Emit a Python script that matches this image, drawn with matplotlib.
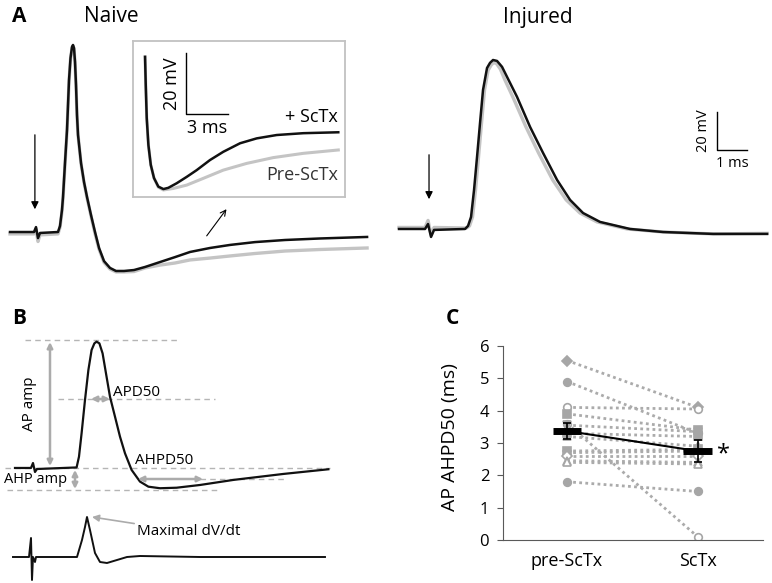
import matplotlib
matplotlib.use("Agg")
import matplotlib.pyplot as plt

plt.rcParams['font.family'] = ['Open Sans', 'DejaVu Sans']

# ---- data ----
# A, naive cell: time (ms) and membrane potential relative to baseline (mV)
naive_t_sctx = [0, 0.8, 0.867, 0.933, 1.0, 1.6, 1.667, 1.733, 1.767, 1.833, 1.9, 1.967, 2.017, 2.067,
                2.1, 2.133, 2.167, 2.2, 2.233, 2.267, 2.367, 2.467, 2.567, 2.7, 2.833, 2.967, 3.133,
                3.333, 3.533, 3.8, 4.133, 4.5, 5.0, 5.5, 6.0, 6.667, 7.333, 8.167, 9.167, 10.333, 11.9]
naive_v_sctx = [0, 0, 2.6, -3.2, -0.5, 0, 3.2, 11.6, 18.4, 36.3, 53.7, 80.0, 91.6, 97.4,
                98.4, 96.8, 89.5, 77.4, 61.6, 51.1, 36.3, 26.3, 18.4, 8.9, 0, -8.4, -15.3,
                -18.9, -20.5, -20.5, -20, -18.4, -15.8, -13.2, -10.5, -8.4, -6.8, -5.3, -4.2, -3.4, -2.6]
naive_t_pre = naive_t_sctx
naive_v_pre = [-1, -1, 1.5, -5, -1.5, -1, 2.5, 10.8, 17.6, 35.5, 53, 79.3, 91, 96.8,
               97.9, 96.3, 89, 77, 61.3, 51, 36, 26, 18, 8.4, -0.8, -9, -16,
               -19.5, -21, -21, -20.8, -18.9, -17.4, -16.3, -14.7, -13.7, -12.6, -11.3, -10, -9.2, -8.4]

# A, inset (AHP zoom)
inset_t_sctx = [0, 0.05, 0.12, 0.24, 0.41, 0.64, 0.95, 1.31, 1.66, 2.26, 2.98, 3.69, 4.64, 5.59,
                6.79, 7.98, 9.41, 11.31, 13.81]
inset_v_sctx = [23.3, 14.1, 3.3, -5.6, -12.1, -16.4, -19.2, -20, -19.6, -18.1, -16, -13.8, -10.5, -7.8,
                -5.0, -3.4, -2.3, -1.7, -1.4]
inset_t_pre = [0, 0.05, 0.12, 0.24, 0.41, 0.64, 0.95, 1.31, 2.02, 2.98, 4.16, 5.59, 7.26, 9.16, 11.31, 13.81]
inset_v_pre = [23.3, 14.1, 3.3, -5.6, -12.1, -16.4, -19.4, -20.3, -19.8, -18.7, -16.5, -13.8, -11.6, -9.7,
               -8.3, -7.2]

# A, injured cell
injured_t_sctx = [0, 0.867, 0.967, 1.067, 1.167, 2.2, 2.3, 2.4, 2.5, 2.6, 2.7, 2.8, 2.933, 3.033, 3.133,
                  3.267, 3.433, 3.6, 3.933, 4.367, 4.8, 5.267, 5.7, 6.133, 6.7, 7.7, 8.8, 10.467, 12.267]
injured_v_sctx = [0, 0, 2.6, -4.2, -0.5, 0, 1.6, 6.3, 20.5, 37.9, 55.8, 73.2, 84.7, 87.4, 88.9,
                  88.4, 85.3, 80, 69.5, 53.7, 40, 25.8, 15.3, 8.4, 3.7, 0, -1.6, -2.6, -2.6]
injured_t_pre = [0, 0.867, 0.967, 1.067, 1.167, 2.25, 2.35, 2.45, 2.55, 2.65, 2.75, 2.85, 2.97, 3.07, 3.15,
                 3.25, 3.38, 3.52, 3.82, 4.23, 4.65, 5.12, 5.57, 6.03, 6.6, 7.6, 8.8, 10.467, 12.267]
injured_v_pre = [0.8, 0.8, 4.5, -3.0, 0.8, 0.5, 1.6, 6.3, 20.5, 37.9, 55.8, 73.2, 83.5, 86.2, 87.5,
                 87, 84, 78.7, 68.5, 53.7, 40, 25.8, 15.3, 8.4, 3.7, 0, -1.6, -2.6, -2.3]

# B, example AP and its derivative
ex_t = [0, 0.8, 0.9, 1.0, 1.1, 3.08, 3.2, 3.33, 3.5, 3.67, 3.83, 3.97, 4.08, 4.22, 4.38, 4.55, 4.75,
        5.0, 5.25, 5.5, 5.83, 6.25, 6.67, 7.25, 8.08, 9.25, 10.92, 13.42, 15.67]
ex_v = [0, 0, 3.8, -3.1, -0.8, 0.4, 8.7, 26.7, 52.3, 75.4, 90.8, 95.9, 97.2, 95.9, 88.2, 72.8, 54.8,
        39.5, 24.1, 11.3, -1.5, -10.5, -14.4, -15.6, -15.2, -13.1, -9.2, -4.6, -1.0]
dvdt_t = [-0.1, 0.7, 0.8, 0.85, 0.9, 1.0, 1.05, 3.1, 3.35, 3.5, 3.6, 3.75, 4.0, 4.25, 4.6, 5.1,
          5.6, 6.25, 9.25, 15.5]
dvdt_v = [0, 0, 190, -230, 0, -50, 0, 0, 170, 300, 400, 270, 40, -50, -60, -30, 0, 10, 0, 0]

# C, AP AHPD50 (ms) per cell
groups = ['pre-ScTx', 'ScTx']
ahpd50_pre = [5.55, 4.9, 4.1, 3.9, 3.6, 3.55, 3.3, 3.2, 2.75, 2.7, 2.6, 2.45, 2.4, 1.8]
ahpd50_sctx = [4.1, 3.3, 4.05, 3.4, 0.1, 3.35, 3.2, 2.9, 2.8, 2.75, 2.6, 2.4, 2.35, 1.5]
cell_markers = ['D', 'o', 'o', 's', 'o', 'v', 's', '^', 's', 'X', 'D', '^', '^', 'o']
cell_filled = [1, 1, 0, 1, 0, 1, 1, 1, 1, 1, 0, 0, 0, 1]
ahpd50_mean = [3.37, 2.75]
ahpd50_sem = [0.25, 0.33]

BLACK = '#111111'
GRAY_TRACE = '#c4c4c4'
ANNOT = '#ababab'

fig = plt.figure(figsize=(7.72, 5.83), dpi=100)


def trace_axes(rect, xlim, ylim):
    ax = fig.add_axes(rect)
    ax.set_xlim(*xlim)
    ax.set_ylim(*ylim)
    ax.axis('off')
    return ax


# ---- A: naive ----
ax_n = trace_axes([0, 0.5026, 0.4922, 0.446], (-0.333, 12.33), (-30.5, 106.3))
ax_n.plot(naive_t_pre, naive_v_pre, color=GRAY_TRACE, lw=2.4, solid_joinstyle='round')
ax_n.plot(naive_t_sctx, naive_v_sctx, color=BLACK, lw=1.8, solid_joinstyle='round')
ax_n.annotate('', xy=(0.83, 10.5), xytext=(0.83, 52.6),
              arrowprops=dict(arrowstyle='-|>', color='k', lw=0.9, mutation_scale=11))
ax_n.annotate('', xy=(7.27, 13.2), xytext=(6.5, -3.2),
              arrowprops=dict(arrowstyle='->', color='k', lw=0.8, mutation_scale=10))

# inset
ax_i = fig.add_axes([0.1723, 0.6621, 0.2746, 0.2676])
ax_i.set_xlim(-0.86, 14.29)
ax_i.set_ylim(-22.6, 28.5)
ax_i.set_xticks([])
ax_i.set_yticks([])
for s in ax_i.spines.values():
    s.set_color('#c2c2c2')
    s.set_linewidth(1.3)
ax_i.plot(inset_t_pre, inset_v_pre, color=GRAY_TRACE, lw=2.2, solid_joinstyle='round')
ax_i.plot(inset_t_sctx, inset_v_sctx, color=BLACK, lw=1.8, solid_joinstyle='round')
ax_i.plot([2.93, 2.93, 5.93], [24.6, 4.6, 4.6], color='k', lw=1)
ax_i.text(2.55, 14.6, '20 mV', rotation=90, ha='right', va='center', fontsize=13)
ax_i.text(4.4, 3.0, '3 ms', ha='center', va='top', fontsize=13)
ax_i.text(13.79, 3.6, '+ ScTx', ha='right', va='center', fontsize=13)
ax_i.text(13.79, -15.4, 'Pre-ScTx', ha='right', va='center', fontsize=13, color='#333333')

# ---- A: injured ----
ax_j = trace_axes([0.5052, 0.5026, 0.4948, 0.446], (-0.3, 12.43), (-32.1, 104.7))
ax_j.plot(injured_t_pre, injured_v_pre, color=GRAY_TRACE, lw=2.4, solid_joinstyle='round')
ax_j.plot(injured_t_sctx, injured_v_sctx, color=BLACK, lw=1.8, solid_joinstyle='round')
ax_j.annotate('', xy=(1.0, 14.2), xytext=(1.0, 40.5),
              arrowprops=dict(arrowstyle='-|>', color='k', lw=0.9, mutation_scale=11))
ax_j.plot([10.6, 10.6, 11.6], [61.6, 41.6, 41.6], color='k', lw=1)
ax_j.text(10.4, 51.6, '20 mV', rotation=90, ha='right', va='center', fontsize=10.5)
ax_j.text(11.1, 38.5, '1 ms', ha='center', va='top', fontsize=10.5)

fig.text(12 / 772, 1 - 16 / 583, 'A', fontsize=15, fontweight='bold', va='center', ha='left')
fig.text(111 / 772, 1 - 17 / 583, 'Naive', fontsize=15, va='center', ha='center')
fig.text(538 / 772, 1 - 17 / 583, 'Injured', fontsize=15, va='center', ha='center')

# ---- B ----
ax_b = trace_axes([0, 0.1338, 0.4339, 0.3002], (-0.75, 16.0), (-28.5, 106.2))
dash = dict(color='#b5b5b5', lw=1, linestyle=(0, (4, 3)))
ax_b.plot([0.5, 8.25], [98.5, 98.5], **dash)
ax_b.plot([2.15, 10.0], [53.1, 53.1], **dash)
ax_b.plot([-0.5, 15.75], [0, 0], **dash)
ax_b.plot([9.25, 13.6], [-8.5, -8.5], **dash)
ax_b.plot([-0.4, 10.1], [-16.9, -16.9], **dash)
ax_b.plot(ex_t, ex_v, color=BLACK, lw=1.6, solid_joinstyle='round')
dbl = dict(arrowstyle='<|-|>', color=ANNOT, lw=1.8, mutation_scale=8, shrinkA=0, shrinkB=0)
ax_b.annotate('', xy=(1.75, 96.9), xytext=(1.75, 1.5), arrowprops=dbl)
ax_b.annotate('', xy=(3.8, 53.1), xytext=(4.75, 53.1), arrowprops=dbl)
ax_b.annotate('', xy=(6.15, -8.5), xytext=(9.4, -8.5), arrowprops=dbl)
ax_b.annotate('', xy=(3.0, -1.5), xytext=(3.0, -16.2), arrowprops=dbl)
ax_b.text(0.75, 49.2, 'AP amp', rotation=90, ha='center', va='center', fontsize=11)
ax_b.text(4.9, 57.7, 'APD50', ha='left', va='center', fontsize=11)
ax_b.text(6.0, 5.4, 'AHPD50', ha='left', va='center', fontsize=11)
ax_b.text(-0.55, -9.2, 'AHP amp', ha='left', va='center', fontsize=10.5)

ax_d = trace_axes([0, 0, 0.4339, 0.1338], (-0.75, 16.0), (-260, 520))
ax_d.plot(dvdt_t, dvdt_v, color=BLACK, lw=1.4)
ax_d.annotate('Maximal dV/dt', xy=(3.85, 400), xytext=(6.1, 250), fontsize=11,
              ha='left', va='center',
              arrowprops=dict(arrowstyle='-|>', color=ANNOT, lw=1.2, mutation_scale=10,
                              shrinkA=0, shrinkB=0))

fig.text(12 / 772, 1 - 318 / 583, 'B', fontsize=15, fontweight='bold', va='center', ha='left')

# ---- C ----
ax_c = fig.add_axes([0.6516, 0.0738, 0.3368, 0.3328])
xs = [0, 1]
for pre, post, m, f in zip(ahpd50_pre, ahpd50_sctx, cell_markers, cell_filled):
    ax_c.plot(xs, [pre, post], color='#ababab', lw=2, linestyle=(0, (1, 1.2)),
              marker=m, markersize=5.5, markerfacecolor='#a6a6a6' if f else 'white',
              markeredgecolor='#a6a6a6', markeredgewidth=1.2)
ax_c.plot(xs, ahpd50_mean, color='k', lw=1.5, zorder=4)
ax_c.errorbar(xs, ahpd50_mean, yerr=ahpd50_sem, fmt='none', ecolor='k', elinewidth=1.2,
              capsize=3, capthick=1.2, zorder=5)
ax_c.hlines(ahpd50_mean, [x - 0.11 for x in xs], [x + 0.11 for x in xs], color='k', lw=5, zorder=6)
ax_c.text(1.15, 2.65, '*', fontsize=17, ha='left', va='center')

ax_c.set_xlim(-0.49, 1.5)
ax_c.set_ylim(0, 6)
ax_c.set_xticks(xs)
ax_c.set_xticklabels(groups, fontsize=13)
ax_c.set_yticks(range(0, 7))
ax_c.tick_params(axis='y', labelsize=12, length=4, pad=6, color='#595959')
ax_c.tick_params(axis='x', length=0, pad=9)
ax_c.spines['top'].set_visible(False)
ax_c.spines['right'].set_visible(False)
ax_c.spines['left'].set_color('#595959')
ax_c.spines['bottom'].set_color('#595959')
ax_c.set_ylabel('AP AHPD50 (ms)', fontsize=14)
ax_c.yaxis.set_label_coords(-0.17, 0.53)

fig.text(452 / 772, 1 - 318 / 583, 'C', fontsize=15, fontweight='bold', va='center', ha='center')

fig.savefig('out.png', dpi=100)
